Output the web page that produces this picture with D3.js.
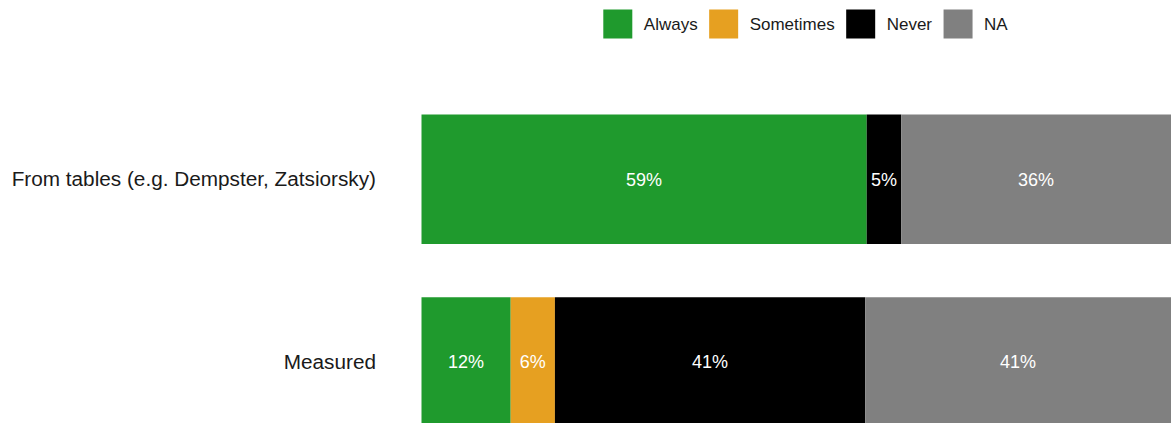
<!DOCTYPE html>
<html>
<head>
<meta charset="utf-8">
<script src="https://cdn.jsdelivr.net/npm/d3@7"></script>
<style>
  html, body { margin: 0; padding: 0; background: #ffffff; }
  svg { display: block; font-family: "Liberation Sans", Arial, Helvetica, sans-serif; }
</style>
</head>
<body>
<svg id="chart" width="1171" height="423"></svg>
<script>
// ---- data ----
const categories = ["From tables (e.g. Dempster, Zatsiorsky)", "Measured"];
const seriesNames = ["Always", "Sometimes", "Never", "NA"];
const seriesColors = ["#1f9a2d", "#e6a021", "#000000", "#808080"];
const alwaysValues    = [0.594, 0.119];
const sometimesValues = [0.000, 0.059];
const neverValues     = [0.046, 0.414];
const naValues        = [0.360, 0.408];
const valueLabels = [
  ["59%", "", "5%", "36%"],
  ["12%", "6%", "41%", "41%"]
];

// ---- build stacked table ----
const table = categories.map((c, i) => ({
  category: c,
  Always: alwaysValues[i],
  Sometimes: sometimesValues[i],
  Never: neverValues[i],
  NA: naValues[i]
}));
const stack = d3.stack().keys(seriesNames)(table);

const svg = d3.select("#chart");

const x = d3.scaleLinear().domain([0, 1]).range([421.5, 1171]);
const y = d3.scaleBand().domain(categories).range([114.5, 426.75])
  .paddingInner(0.2914).paddingOuter(0);
const color = d3.scaleOrdinal().domain(seriesNames).range(seriesColors);

// bars
const layers = svg.append("g").selectAll("g")
  .data(stack).join("g")
  .attr("fill", d => color(d.key));

layers.selectAll("rect")
  .data(d => d.map(p => ({p, key: d.key})))
  .join("rect")
  .filter(d => d.p[1] - d.p[0] > 0)
  .attr("x", d => x(d.p[0]))
  .attr("y", d => y(d.p.data.category))
  .attr("width", d => x(d.p[1]) - x(d.p[0]))
  .attr("height", y.bandwidth());

// value labels
stack.forEach((layer, si) => {
  layer.forEach((p, ci) => {
    const lab = valueLabels[ci][si];
    if (!lab) return;
    svg.append("text")
      .attr("x", (x(p[0]) + x(p[1])) / 2)
      .attr("y", y(categories[ci]) + y.bandwidth() / 2)
      .attr("dy", "0.35em")
      .attr("text-anchor", "middle")
      .attr("fill", "#ffffff")
      .attr("font-size", "18px")
      .text(lab);
  });
});

// y axis (labels only)
const yAxis = d3.axisLeft(y).tickSize(0).tickPadding(45.5);
const ag = svg.append("g").attr("transform", "translate(421.5,0)").call(yAxis);
ag.select(".domain").remove();
ag.selectAll("text").attr("font-size", "20.75px").attr("fill", "#1a1a1a")
  .attr("font-family", "Liberation Sans, Arial, sans-serif");

// legend
const legend = svg.append("g");
let lx = 603.3;
seriesNames.forEach((name) => {
  legend.append("rect")
    .attr("x", lx).attr("y", 9.5)
    .attr("width", 29).attr("height", 29)
    .attr("fill", color(name));
  const t = legend.append("text")
    .attr("x", lx + 29 + 11.5).attr("y", 24)
    .attr("dy", "0.35em")
    .attr("font-size", "17px")
    .attr("fill", "#1a1a1a")
    .text(name);
  lx = lx + 29 + 11.5 + t.node().getComputedTextLength() + 11.5;
});
</script>
</body>
</html>
